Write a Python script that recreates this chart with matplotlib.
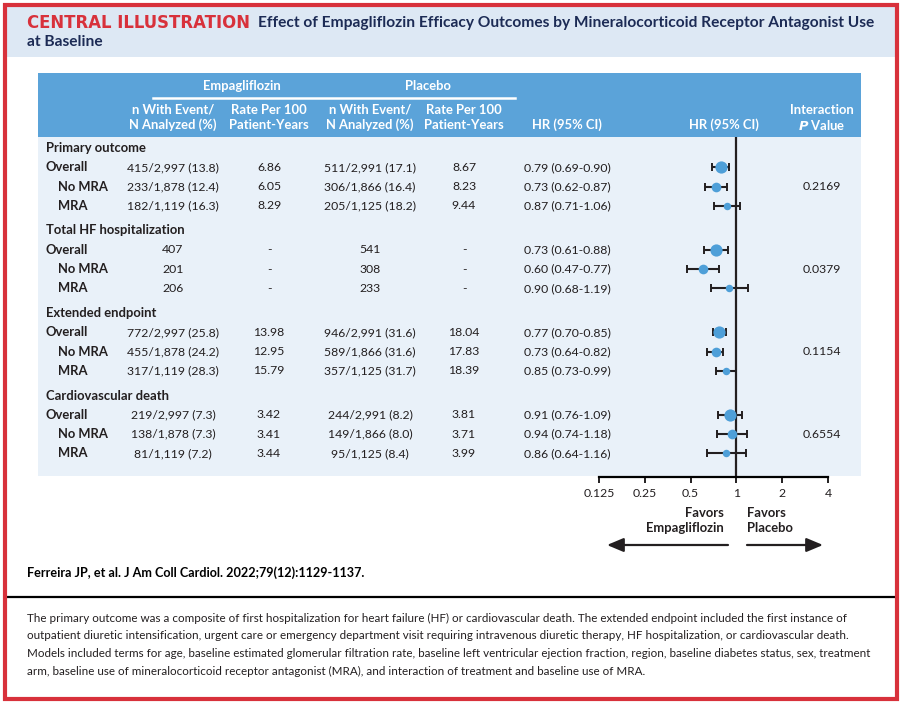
import numpy as np
import matplotlib.pyplot as plt
from matplotlib.patches import Rectangle

# Datos de la tabla
grupos = ["Primary outcome", "Total HF hospitalization", "Extended endpoint", "Cardiovascular death"]
subgrupos = ["Overall", "No MRA", "MRA"]
n_analizados = [2997, 1878, 1119]   # empagliflozina, para el tamaño de los marcadores

empa_n = [["415/2,997 (13.8)", "233/1,878 (12.4)", "182/1,119 (16.3)"],
          ["407", "201", "206"],
          ["772/2,997 (25.8)", "455/1,878 (24.2)", "317/1,119 (28.3)"],
          ["219/2,997 (7.3)", "138/1,878 (7.3)", "81/1,119 (7.2)"]]
empa_tasa = [["6.86", "6.05", "8.29"],
             ["-", "-", "-"],
             ["13.98", "12.95", "15.79"],
             ["3.42", "3.41", "3.44"]]
plac_n = [["511/2,991 (17.1)", "306/1,866 (16.4)", "205/1,125 (18.2)"],
          ["541", "308", "233"],
          ["946/2,991 (31.6)", "589/1,866 (31.6)", "357/1,125 (31.7)"],
          ["244/2,991 (8.2)", "149/1,866 (8.0)", "95/1,125 (8.4)"]]
plac_tasa = [["8.67", "8.23", "9.44"],
             ["-", "-", "-"],
             ["18.04", "17.83", "18.39"],
             ["3.81", "3.71", "3.99"]]

hr = [[0.79, 0.73, 0.87], [0.73, 0.60, 0.90], [0.77, 0.73, 0.85], [0.91, 0.94, 0.86]]
hr_lo = [[0.69, 0.62, 0.71], [0.61, 0.47, 0.68], [0.70, 0.64, 0.73], [0.76, 0.74, 0.64]]
hr_hi = [[0.90, 0.87, 1.06], [0.88, 0.77, 1.19], [0.85, 0.82, 0.99], [1.09, 1.18, 1.16]]
p_interaccion = ["0.2169", "0.0379", "0.1154", "0.6554"]

ticks_hr = [0.125, 0.25, 0.5, 1, 2, 4]
tick_labels = ["0.125", "0.25", "0.5", "1", "2", "4"]

titulo = "Effect of Empagliflozin Efficacy Outcomes by Mineralocorticoid Receptor Antagonist Use"
cita = "Ferreira JP, et al. J Am Coll Cardiol. 2022;79(12):1129-1137."
nota = ["The primary outcome was a composite of first hospitalization for heart failure (HF) or cardiovascular death. The extended endpoint included the first instance of",
        "outpatient diuretic intensification, urgent care or emergency department visit requiring intravenous diuretic therapy, HF hospitalization, or cardiovascular death.",
        "Models included terms for age, baseline estimated glomerular filtration rate, baseline left ventricular ejection fraction, region, baseline diabetes status, sex, treatment",
        "arm, baseline use of mineralocorticoid receptor antagonist (MRA), and interaction of treatment and baseline use of MRA."]

# Colores
ROJO = "#d8313b"
AZUL_OSCURO = "#1c2b55"
FONDO_TITULO = "#dde8f4"
AZUL_CABECERA = "#5ba3d9"
FONDO_TABLA = "#e9f1f9"
AZUL_MARCADOR = "#4e9fd8"
TEXTO = "#231f20"

plt.rcParams['font.family'] = ['Lato', 'DejaVu Sans']

FS = 8.8      # texto normal
FSB = 9.4     # texto en negrita

W, H = 901, 703
fig = plt.figure(figsize=(W / 100, H / 100), dpi=100)
ax0 = fig.add_axes([0, 0, 1, 1])
ax0.set_xlim(0, W)
ax0.set_ylim(H, 0)
ax0.axis("off")

# Marco y fondos
ax0.add_patch(Rectangle((4.5, 4.5), W - 9, H - 9, fill=False, ec=ROJO, lw=3, zorder=5))
ax0.add_patch(Rectangle((6, 6), W - 12, 51, fc=FONDO_TITULO, ec="none"))
ax0.add_patch(Rectangle((38, 73), 823, 64, fc=AZUL_CABECERA, ec="none"))
ax0.add_patch(Rectangle((38, 137), 823, 339, fc=FONDO_TABLA, ec="none"))
ax0.plot([6, W - 6], [597, 597], color="black", lw=1.6)

# Título
ax0.text(27, 23, "CENTRAL ILLUSTRATION", color=ROJO, fontsize=11.9, fontweight="bold",
         family="DejaVu Sans", va="center", ha="left")
ax0.text(258, 23, titulo, color=AZUL_OSCURO, fontsize=11.2, fontweight="bold", va="center")
ax0.text(27, 42, "at Baseline", color=AZUL_OSCURO, fontsize=11.2, fontweight="bold", va="center")

# Cabecera de la tabla
col_x = [173, 269, 370, 464, 567, 822]
cab = dict(color="white", fontsize=FSB, fontweight="bold", ha="center", va="center")
ax0.text(242, 86, "Empagliflozin", **cab)
ax0.text(428, 86, "Placebo", **cab)
ax0.plot([153, 515], [97.5, 97.5], color="white", lw=1.8)
for cx in [col_x[0], col_x[2]]:
    ax0.text(cx, 110, "n With Event/", **cab)
    ax0.text(cx, 125, "N Analyzed (%)", **cab)
for cx in [col_x[1], col_x[3]]:
    ax0.text(cx, 110, "Rate Per 100", **cab)
    ax0.text(cx, 125, "Patient-Years", **cab)
ax0.text(col_x[4], 125, "HR (95% CI)", **cab)
ax0.text(724, 125, "HR (95% CI)", **cab)
ax0.text(col_x[5], 110, "Interaction", **cab)
ax0.text(col_x[5], 125, "$\\mathbfit{P}$ Value", **cab)

# Filas
paso_fila = 19.3
paso_grupo = 82.5
y_filas = []
for g, grupo in enumerate(grupos):
    y0 = 148 + g * paso_grupo
    ax0.text(46, y0, grupo, color=TEXTO, fontsize=FSB, fontweight="bold", va="center")
    ys = []
    for k, sub in enumerate(subgrupos):
        y = y0 + (k + 1) * paso_fila
        ys.append(y)
        x_lab = 46 if k == 0 else 58
        ax0.text(x_lab, y, sub, color=TEXTO, fontsize=FSB, fontweight="bold", va="center")
        for cx, txt in zip(col_x[:4], [empa_n[g][k], empa_tasa[g][k], plac_n[g][k], plac_tasa[g][k]]):
            ax0.text(cx, y, txt, color=TEXTO, fontsize=FS, ha="center", va="center")
        ax0.text(col_x[4], y, f"{hr[g][k]:.2f} ({hr_lo[g][k]:.2f}-{hr_hi[g][k]:.2f})",
                 color=TEXTO, fontsize=FS, ha="center", va="center")
    ax0.text(col_x[5], ys[1], p_interaccion[g], color=TEXTO, fontsize=FS, ha="center", va="center")
    y_filas.append(ys)

# Forest plot
x_izq, x_der, y_sup, y_inf = 599, 828, 137, 477
ax = fig.add_axes([x_izq / W, (H - y_inf) / H, (x_der - x_izq) / W, (y_inf - y_sup) / H])
ax.set_xscale("log", base=2)
ax.set_xlim(0.125, 4)
ax.set_ylim(y_inf, y_sup)
ax.patch.set_alpha(0)
for s in ["top", "right", "left"]:
    ax.spines[s].set_visible(False)
ax.spines["bottom"].set_linewidth(1.6)
ax.set_yticks([])
ax.set_xticks(ticks_hr)
ax.set_xticklabels(tick_labels)
ax.minorticks_off()
ax.tick_params(axis="x", length=4, width=1.4, labelsize=FS, colors=TEXTO, pad=4)
ax.axvline(1, color=TEXTO, lw=1.6)

for g in range(len(grupos)):
    for k in range(3):
        ms = 8.8 * np.sqrt(n_analizados[k] / n_analizados[0])
        ax.errorbar(hr[g][k], y_filas[g][k],
                    xerr=[[hr[g][k] - hr_lo[g][k]], [hr_hi[g][k] - hr[g][k]]],
                    fmt="o", ms=ms, color=AZUL_MARCADOR, ecolor=TEXTO,
                    elinewidth=1.5, capsize=2.6, capthick=1.4, mec="none", zorder=3)

# Leyenda de direcciones
ax0.text(724, 513, "Favors", color=TEXTO, fontsize=FSB, fontweight="bold", ha="right", va="center")
ax0.text(724, 528, "Empagliflozin", color=TEXTO, fontsize=FSB, fontweight="bold", ha="right", va="center")
ax0.text(747, 513, "Favors", color=TEXTO, fontsize=FSB, fontweight="bold", ha="left", va="center")
ax0.text(747, 528, "Placebo", color=TEXTO, fontsize=FSB, fontweight="bold", ha="left", va="center")
flecha = dict(arrowstyle="-|>,head_length=1.0,head_width=0.42", color=TEXTO, lw=1.6, shrinkA=0, shrinkB=0)
ax0.annotate("", xy=(607, 545), xytext=(728, 545), arrowprops=flecha)
ax0.annotate("", xy=(823, 545), xytext=(747, 545), arrowprops=flecha)

# Cita y nota al pie
ax0.text(27, 573, cita, color="black", fontsize=9.1, fontweight="bold", va="center")
for i, linea in enumerate(nota):
    ax0.text(27, 618 + i * 17.8, linea, color=TEXTO, fontsize=8.35, va="center")

fig.savefig("out.png", dpi=100)
